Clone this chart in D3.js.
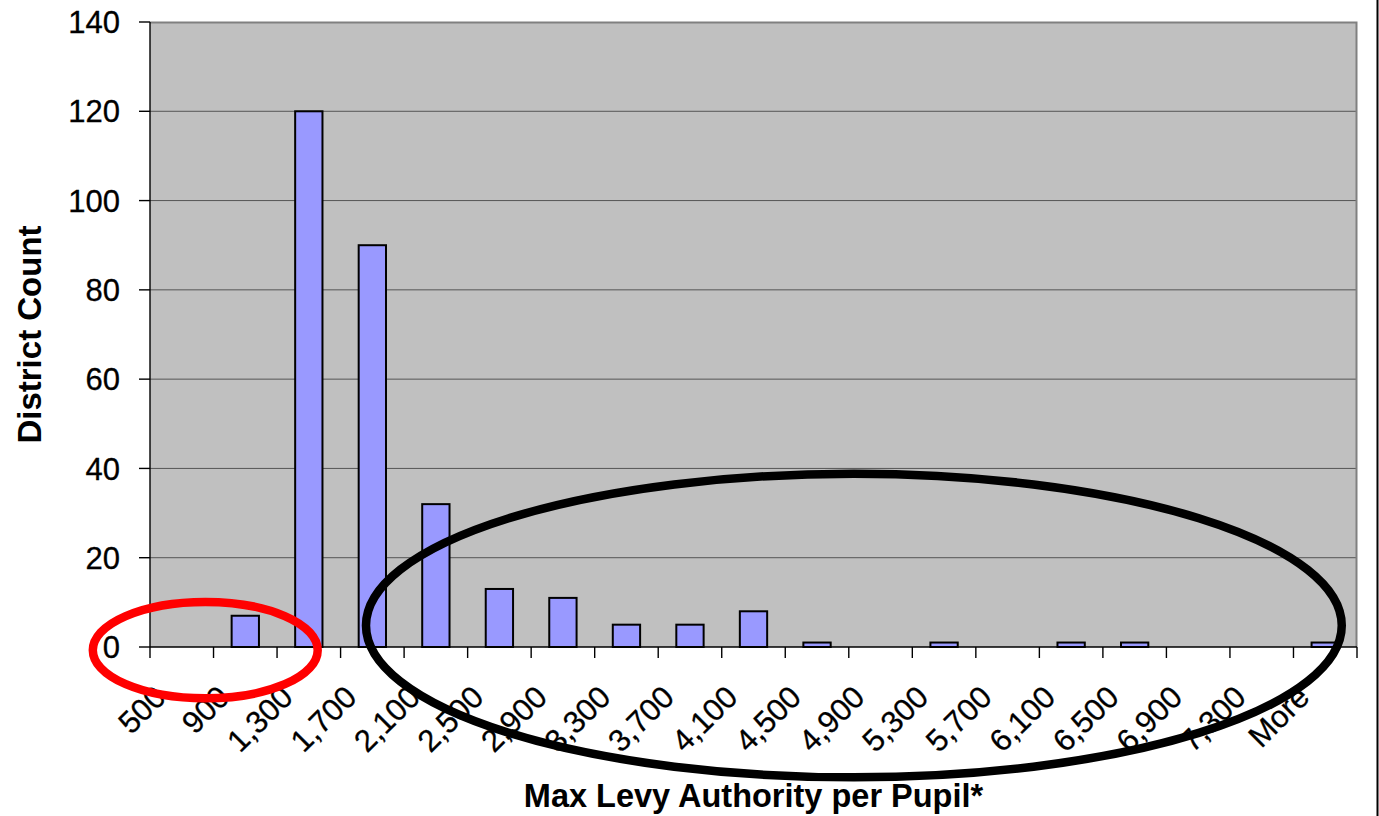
<!DOCTYPE html>
<html>
<head>
<meta charset="utf-8">
<script src="https://cdn.jsdelivr.net/npm/d3@7/dist/d3.min.js"></script>
<style>
  body { margin: 0; background: #fff; }
  text { font-family: "Liberation Sans", Arial, sans-serif; }
</style>
</head>
<body>
<svg id="chart" width="1379" height="816"></svg>
<script>
// bins (upper bound of each bin) and district counts
const bins = ["500", "900", "1,300", "1,700", "2,100", "2,500", "2,900", "3,300", "3,700",
  "4,100", "4,500", "4,900", "5,300", "5,700", "6,100", "6,500", "6,900", "7,300", "More"];
const counts = [0, 7, 120, 90, 32, 13, 11, 5, 5, 8, 1, 0, 1, 0, 1, 1, 0, 0, 1];
const yTicks = [0, 20, 40, 60, 80, 100, 120, 140];

// hand drawn ellipses, in bin units (x) and count units (y)
const redRing = { cx: 0.87, cy: -0.7, rx: 1.77, ry: 10.8 };
const blackRing = { cx: 11.08, cy: 4.8, rx: 7.68, ry: 34 };

const margin = { top: 22, right: 22, bottom: 169, left: 150 },
  width = 1379, height = 816,
  innerWidth = width - margin.left - margin.right,
  innerHeight = height - margin.top - margin.bottom;

const svg = d3.select("#chart");
const g = svg.append("g").attr("transform", `translate(${margin.left},${margin.top})`);

const x = d3.scaleBand().domain(bins).range([0, innerWidth]);
const xLin = d3.scaleLinear().domain([0, bins.length]).range([0, innerWidth]);
const y = d3.scaleLinear().domain([0, 140]).range([innerHeight, 0]);

// plot background
g.append("rect").attr("width", innerWidth).attr("height", innerHeight).attr("fill", "#c0c0c0");

// gridlines
g.selectAll(".grid").data(yTicks.filter(d => d > 0 && d < 140)).join("line")
  .attr("x1", 0).attr("x2", innerWidth)
  .attr("y1", d => y(d)).attr("y2", d => y(d))
  .attr("stroke", "#555").attr("stroke-width", 1);

// top & right border
g.append("path")
  .attr("d", `M0,0.5H${innerWidth - 0.5}V${innerHeight}`)
  .attr("fill", "none").attr("stroke", "#808080").attr("stroke-width", 2);

// bars
const bw = x.bandwidth() * 0.43;
g.selectAll(".bar").data(counts.map((c, i) => ({ bin: bins[i], c })).filter(d => d.c > 0)).join("rect")
  .attr("class", "bar")
  .attr("x", d => x(d.bin) + (x.bandwidth() - bw) / 2)
  .attr("y", d => y(d.c))
  .attr("width", bw)
  .attr("height", d => y(0) - y(d.c))
  .attr("fill", "#9999ff")
  .attr("stroke", "#000").attr("stroke-width", 2);

// y axis
g.append("line").attr("x1", 0).attr("x2", 0).attr("y1", 0).attr("y2", innerHeight)
  .attr("stroke", "#000").attr("stroke-width", 1.4);
g.selectAll(".ytick").data(yTicks).join("line")
  .attr("x1", -11).attr("x2", 0)
  .attr("y1", d => y(d)).attr("y2", d => y(d))
  .attr("stroke", "#000").attr("stroke-width", 1.4);
g.selectAll(".ylab").data(yTicks).join("text")
  .attr("x", -30).attr("y", d => y(d)).attr("dy", "0.36em")
  .attr("text-anchor", "end").style("font-size", "31px")
  .attr("stroke", "#000").attr("stroke-width", 0.3).text(d => d);

// x axis
g.append("line").attr("x1", 0).attr("x2", innerWidth).attr("y1", innerHeight).attr("y2", innerHeight)
  .attr("stroke", "#000").attr("stroke-width", 1.4);
g.selectAll(".xtick").data(d3.range(bins.length + 1)).join("line")
  .attr("x1", d => xLin(d)).attr("x2", d => xLin(d))
  .attr("y1", innerHeight).attr("y2", innerHeight + 11)
  .attr("stroke", "#000").attr("stroke-width", 1.4);
g.selectAll(".xlab").data(bins).join("text")
  .attr("text-anchor", "end")
  .attr("transform", d => `translate(${x(d) + x.bandwidth() / 2 - 14},${innerHeight + 52}) rotate(-45)`)
  .style("font-size", "31px")
  .attr("stroke", "#000").attr("stroke-width", 0.3).text(d => d);

// titles
svg.append("text").attr("x", margin.left + innerWidth / 2).attr("y", 807)
  .attr("text-anchor", "middle").style("font-size", "32.5px").style("font-weight", "bold")
  .text("Max Levy Authority per Pupil*");
svg.append("text").attr("transform", `translate(41,${margin.top + innerHeight / 2}) rotate(-90)`)
  .attr("text-anchor", "middle").style("font-size", "33px").style("font-weight", "bold")
  .text("District Count");

// chart frame edge on the right
svg.append("line").attr("x1", 1377.5).attr("x2", 1377.5).attr("y1", 0).attr("y2", height)
  .attr("stroke", "#000").attr("stroke-width", 2);

// annotation rings
[[redRing, "#ff0000"], [blackRing, "#000"]].forEach(([r, col]) => {
  g.append("ellipse")
    .attr("cx", xLin(r.cx)).attr("cy", y(r.cy))
    .attr("rx", xLin(r.rx) - xLin(0)).attr("ry", y(0) - y(r.ry))
    .attr("fill", "none").attr("stroke", col).attr("stroke-width", 8.5);
});
</script>
</body>
</html>
